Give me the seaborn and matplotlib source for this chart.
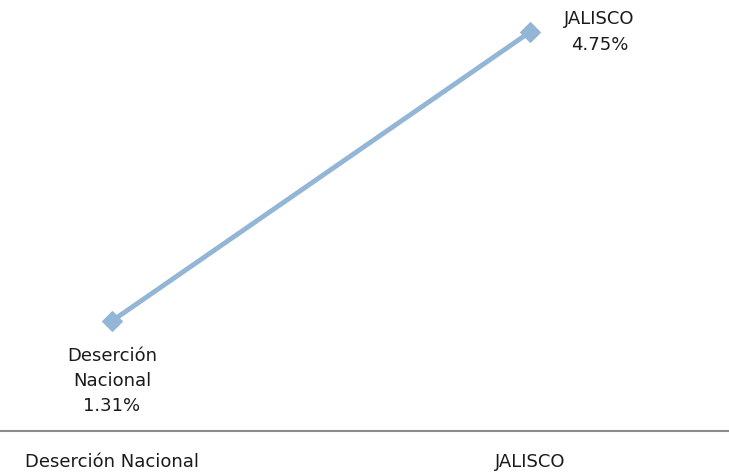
import matplotlib
matplotlib.use("Agg")
import matplotlib.pyplot as plt
import seaborn as sns
import pandas as pd

# ── Data ──────────────────────────────────────────────────────────────────────
categories = ["Deserción Nacional", "JALISCO"]
values = [1.31, 4.75]
point_labels = ["Deserción\nNacional\n1.31%", "JALISCO\n4.75%"]

LINE_COLOR = "#93B6D6"
TEXT_COLOR = "#1a1a1a"
FS = 13

sns.set_theme(style="white")
plt.rcParams["font.family"] = ["DejaVu Sans"]

df = pd.DataFrame({"cat": categories, "val": values})

fig = plt.figure(figsize=(7.29, 4.73), dpi=100)
ax = fig.add_axes([0, 1 - 431 / 473, 1, (431 - 11) / 473])

sns.lineplot(data=df, x="cat", y="val", ax=ax, color=LINE_COLOR,
             linewidth=3.5, marker="D", markersize=10,
             markeredgecolor=LINE_COLOR, sort=False)

# x: category 0 at px 112, category 1 at px 530
scale = 418
ax.set_xlim(-112 / scale, (729 - 112) / scale)
ax.set_ylim(0, 5)

# Data labels
ax.annotate(point_labels[0], (0, values[0]), xytext=(0, -19),
            textcoords="offset points", ha="center", va="top",
            fontsize=FS, color=TEXT_COLOR, linespacing=1.5)
ax.annotate(point_labels[1], (1, values[1]), xytext=(50, 0),
            textcoords="offset points", ha="center", va="center",
            fontsize=FS, color=TEXT_COLOR, linespacing=1.5)

# Axis styling
for side in ["top", "left", "right"]:
    ax.spines[side].set_visible(False)
ax.spines["bottom"].set_color("#8c8c8c")
ax.spines["bottom"].set_linewidth(1.5)
ax.set_yticks([])
ax.set_xticks([0, 1])
ax.set_xticklabels(categories, fontsize=FS, color=TEXT_COLOR)
ax.tick_params(axis="x", length=0, pad=16)
ax.set_xlabel("")
ax.set_ylabel("")
ax.set_facecolor("white")
fig.patch.set_facecolor("white")

fig.savefig("out.png", dpi=100)
